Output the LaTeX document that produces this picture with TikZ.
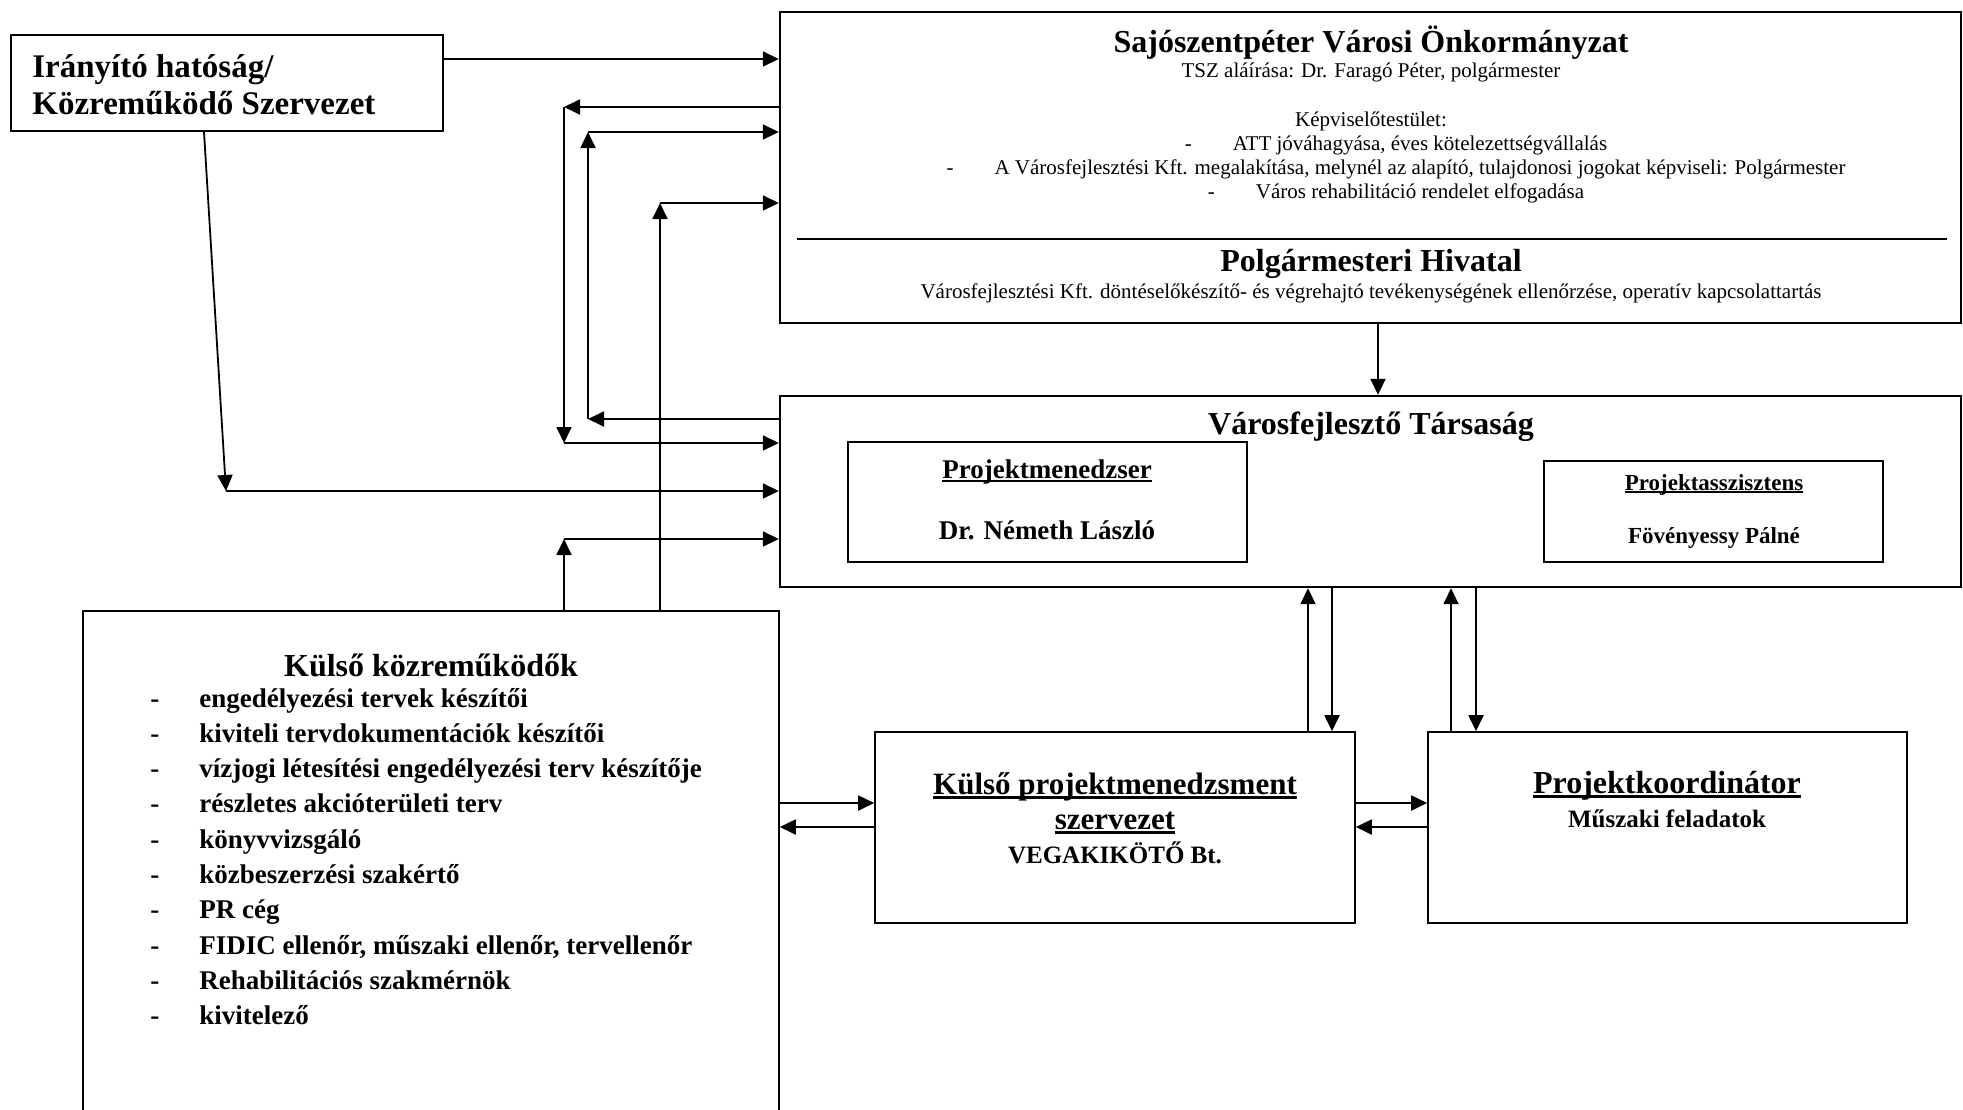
\documentclass[tikz,border=0pt]{standalone}
\usepackage{fontspec}
\setmainfont{Liberation Serif}
\usetikzlibrary{arrows.meta}
\newcommand\fsz[2]{\fontsize{#1}{#2}\selectfont}
\newcommand\myul[1]{\setbox0\hbox{#1}\rlap{\rule[-0.15em]{\wd0}{0.09em}}\box0}
\tikzset{
  box/.style={draw, line width=1pt, inner sep=0pt},
  bigbox/.style={box, line width=1.2pt},
  thinbox/.style={box, line width=0.8pt},
  txt/.style={inner sep=0pt, anchor=base},
  ttl/.style={txt, font=\fsz{16}{19}\bfseries},
  sm/.style={txt, font=\fsz{10.5}{12}},
  itm/.style={inner sep=0pt, anchor=base west, font=\fsz{13.5}{16}\bfseries},
  arr/.style={-{Triangle[length=8pt,width=7.5pt]}, line width=0.9pt},
}
\begin{document}
\begin{tikzpicture}[x=0.5pt,y=-0.5pt]
\useasboundingbox (0,0) rectangle (1963,1109);

% boxes
\node[box, minimum width=216pt, minimum height=48pt] (iran) at (227,83) {};
\node[bigbox, minimum width=590.5pt, minimum height=155.5pt] (sajo) at (1370.5,167.5) {};
\node[bigbox, minimum width=590.5pt, minimum height=95.5pt] (varos) at (1370.5,491.5) {};
\node[thinbox, minimum width=199.5pt, minimum height=60pt] (pm) at (1047.5,502) {};
\node[thinbox, minimum width=169.5pt, minimum height=50.5pt] (pa) at (1713.5,511.5) {};
\node[thinbox, minimum width=348pt, minimum height=264.5pt] (kulso) at (431,875.5) {};
\node[thinbox, minimum width=240pt, minimum height=95.5pt] (kpm) at (1115,827.5) {};
\node[thinbox, minimum width=239.5pt, minimum height=95.5pt] (pk) at (1667.5,827.5) {};

% separator inside the top box
\draw[line width=1.4pt] (797,239) -- (1947,239);

% Irányító
\node[inner sep=0pt, anchor=base west, font=\fsz{16.5}{19}\bfseries] (t1) at (32,77) {Irányító hatóság/};
\node[inner sep=0pt, anchor=base west, font=\fsz{16.5}{19}\bfseries] (t2) at (32,114) {Közreműködő Szervezet};

% Sajószentpéter
\node[ttl] (s1) at (1371,52) {Sajószentpéter Városi Önkormányzat};
\node[sm] (s2) at (1371,77) {TSZ aláírása: Dr. Faragó Péter, polgármester};
\node[sm] (s3) at (1371,126) {Képviselőtestület:};
\node[sm] (s4) at (1396,150) {\makebox[24pt][l]{-}ATT jóváhagyása, éves kötelezettségvállalás};
\node[sm] (s5) at (1396,174) {\makebox[24pt][l]{-}A Városfejlesztési Kft. megalakítása, melynél az alapító, tulajdonosi jogokat képviseli: Polgármester};
\node[sm] (s6) at (1396,198) {\makebox[24pt][l]{-}Város rehabilitáció rendelet elfogadása};
\node[ttl] (s7) at (1371,271) {Polgármesteri Hivatal};
\node[sm] (s8) at (1371,298) {Városfejlesztési Kft. döntéselőkészítő- és végrehajtó tevékenységének ellenőrzése, operatív kapcsolattartás};

% Városfejlesztő Társaság
\node[ttl] (v1) at (1371,434) {Városfejlesztő Társaság};
\node[txt, font=\fsz{13.5}{16}\bfseries] (v2) at (1047,478) {\myul{Projektmenedzser}};
\node[txt, font=\fsz{13.5}{16}\bfseries] (v3) at (1047,539) {Dr. Németh László};
\node[txt, font=\fsz{11.5}{14}\bfseries] (v4) at (1714,490) {\myul{Projektasszisztens}};
\node[txt, font=\fsz{11.5}{14}\bfseries] (v5) at (1714,543) {Fövényessy Pálné};

% Külső projektmenedzsment
\node[txt, font=\fsz{15.5}{18}\bfseries] (k1) at (1115,794) {\myul{Külső projektmenedzsment}};
\node[txt, font=\fsz{15.5}{18}\bfseries] (k2) at (1115,829) {\myul{szervezet}};
\node[txt, font=\fsz{12.5}{15}\bfseries] (k3) at (1115,863) {VEGAKIKÖTŐ Bt.};

% Projektkoordinátor
\node[txt, font=\fsz{16}{19}\bfseries] (p1) at (1667,793) {\myul{Projektkoordinátor}};
\node[txt, font=\fsz{12.5}{15}\bfseries] (p2) at (1667,827) {Műszaki feladatok};

% Külső közreműködők
\node[ttl] (qt) at (431,676) {Külső közreműködők};
\foreach \t [count=\i from 0] in {engedélyezési tervek készítői, kiviteli tervdokumentációk készítői, vízjogi létesítési engedélyezési terv készítője, részletes akcióterületi terv, könyvvizsgáló, közbeszerzési szakértő, PR cég, {FIDIC ellenőr, műszaki ellenőr, tervellenőr}, Rehabilitációs szakmérnök, kivitelező}
  \node[itm] (q\i) at (150,{707+35.3*\i}) {\makebox[24.5pt][l]{-}\t};

% connectors
\draw[arr] (iran.east |- 0,59) -- (sajo.west |- 0,59);
\coordinate (c1) at (226,491);
\draw[arr] (iran.south -| 204,0) -- (c1);
\draw[arr] (c1) -- (varos.west |- c1);
\coordinate (c2) at (564,107);
\coordinate (c3) at (564,443);
\draw[arr] (sajo.west |- c2) -- (c2);
\draw[arr] (c2) -- (c3);
\draw[arr] (c3) -- (varos.west |- c3);
\coordinate (c4) at (588,419);
\coordinate (c5) at (588,132);
\draw[arr] (varos.west |- c4) -- (c4);
\draw[arr] (c4) -- (c5);
\draw[arr] (c5) -- (sajo.west |- c5);
\coordinate (c6) at (660,203);
\draw[arr] (kulso.north -| c6) -- (c6);
\draw[arr] (c6) -- (sajo.west |- c6);
\coordinate (c7) at (564,539);
\draw[arr] (kulso.north -| c7) -- (c7);
\draw[arr] (c7) -- (varos.west |- c7);
\draw[arr] (sajo.south -| 1378,0) -- (varos.north -| 1378,0);
\draw[arr] (kpm.north -| 1308,0) -- (varos.south -| 1308,0);
\draw[arr] (varos.south -| 1332,0) -- (kpm.north -| 1332,0);
\draw[arr] (pk.north -| 1451,0) -- (varos.south -| 1451,0);
\draw[arr] (varos.south -| 1476,0) -- (pk.north -| 1476,0);
\draw[arr] (kulso.east |- 0,803) -- (kpm.west |- 0,803);
\draw[arr] (kpm.west |- 0,827) -- (kulso.east |- 0,827);
\draw[arr] (kpm.east |- 0,803) -- (pk.west |- 0,803);
\draw[arr] (pk.west |- 0,827) -- (kpm.east |- 0,827);
\end{tikzpicture}
\end{document}
